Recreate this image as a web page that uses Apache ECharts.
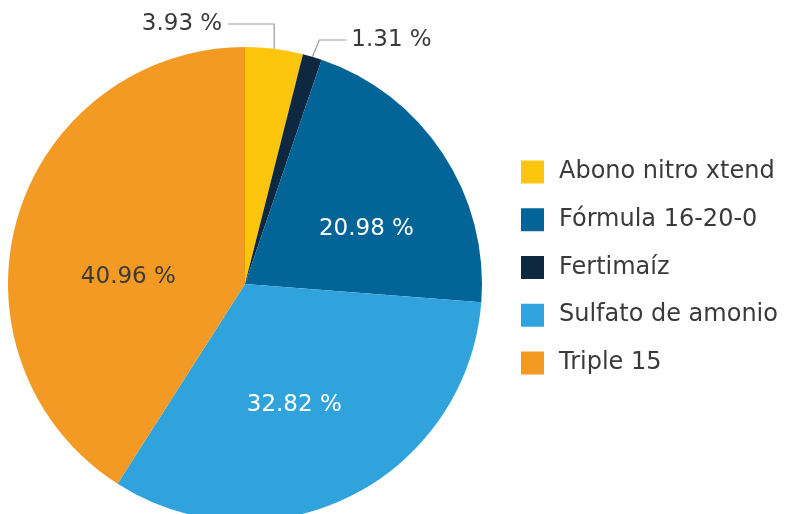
<!DOCTYPE html>
<html><head><meta charset="utf-8">
<script src="https://cdn.jsdelivr.net/npm/echarts@6/dist/echarts.min.js"></script>
<style>html,body{margin:0;padding:0;background:#fff}#c{width:788px;height:514px}</style>
</head><body><div id="c"></div>
<script>
// Pie slice order (clockwise from 12 o'clock)
const categories = ['Abono nitro xtend', 'Fertimaíz', 'Fórmula 16-20-0', 'Sulfato de amonio', 'Triple 15'];
const values = [3.93, 1.31, 20.98, 32.82, 40.96];
// Legend order as shown
const legendOrder = ['Abono nitro xtend', 'Fórmula 16-20-0', 'Fertimaíz', 'Sulfato de amonio', 'Triple 15'];

const colorMap = {
  'Abono nitro xtend': '#FDC60D',
  'Fertimaíz': '#0E2841',
  'Fórmula 16-20-0': '#036597',
  'Sulfato de amonio': '#30A3DD',
  'Triple 15': '#F39A25'
};
const insideColor = {
  'Fórmula 16-20-0': '#ffffff',
  'Sulfato de amonio': '#ffffff',
  'Triple 15': '#3a3a3a'
};
// nudges for inside labels (px)
const insideShift = {
  'Fórmula 16-20-0': [20, 12],
  'Sulfato de amonio': [-5, 12],
  'Triple 15': [0, 27]
};
const FONT = 'DejaVu Sans';
const TEXT = '#3a3a3a';
const FS = 23;

const data = categories.map((n, i) => {
  const small = values[i] < 5;
  return {
    name: n,
    value: values[i],
    itemStyle: { color: colorMap[n] },
    label: small ? {
      position: 'outside', color: TEXT, fontSize: FS, fontFamily: FONT
    } : {
      position: 'inside', color: insideColor[n], fontSize: FS, fontFamily: FONT
    },
    labelLine: { show: small, length: 20, length2: 25, lineStyle: { color: '#9a9a9a', width: 1.2 } }
  };
});

const chart = echarts.init(document.getElementById('c'), null, { renderer: 'canvas' });
chart.setOption({
  animation: false,
  legend: {
    orient: 'vertical',
    left: 521, top: 160, padding: 0,
    itemWidth: 23, itemHeight: 23, itemGap: 23.75,
    icon: 'rect',
    data: legendOrder,
    textStyle: { fontSize: 24, lineHeight: 23, fontFamily: FONT, color: TEXT, padding: [0, 0, 0, 10] }
  },
  series: [{
    type: 'pie',
    center: [245, 284],
    radius: [0, 237],
    startAngle: 90,
    clockwise: true,
    avoidLabelOverlap: false,
    label: {
      formatter: p => p.value.toFixed(2) + ' %'
    },
    labelLayout: function (p) {
      if (p.dataIndex === 0) {
        const s = p.labelLinePoints[0];
        const y = 24;
        const xEnd = s[0] - 46;
        return {
          x: xEnd - 6, y: y, align: 'right', verticalAlign: 'middle',
          labelLinePoints: [s, [s[0], y], [xEnd, y]]
        };
      }
      if (p.dataIndex === 1) {
        const s = p.labelLinePoints[0];
        const y = 40;
        const x1 = s[0] + 7;
        const xEnd = x1 + 27;
        return {
          x: xEnd + 5, y: y, align: 'left', verticalAlign: 'middle',
          labelLinePoints: [s, [x1, y], [xEnd, y]]
        };
      }
      const sh = insideShift[categories[p.dataIndex]];
      return { dx: sh[0], dy: sh[1] };
    },
    data: data
  }]
});
</script></body></html>
